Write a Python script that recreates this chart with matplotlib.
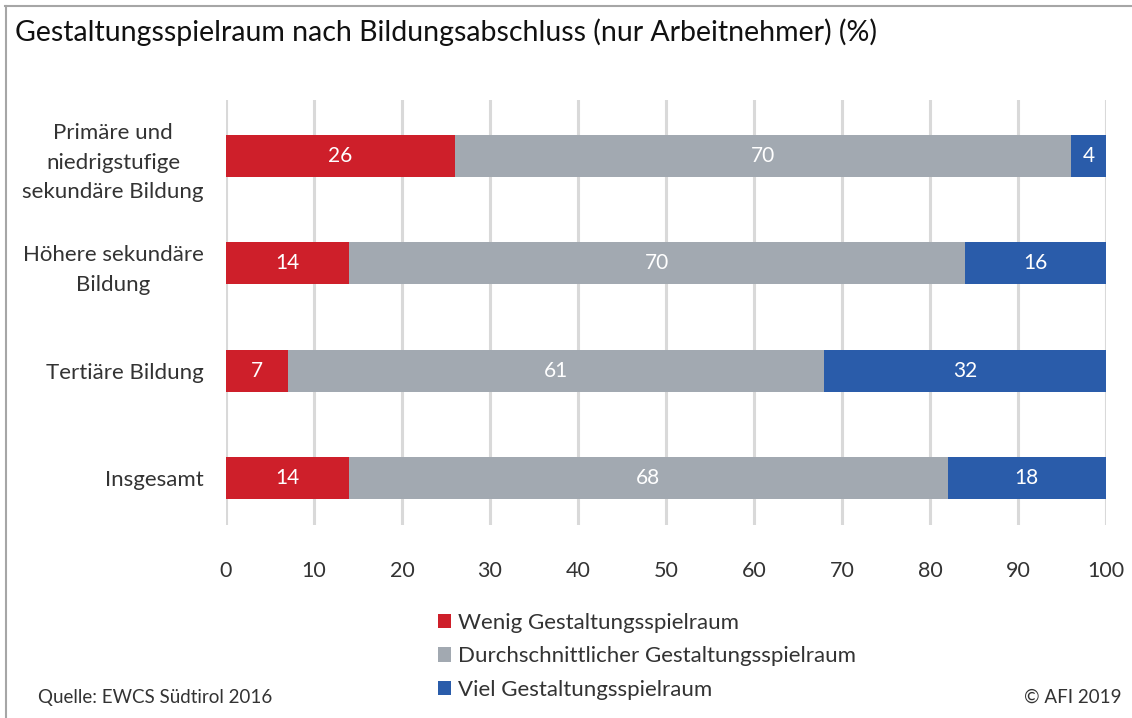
import matplotlib
matplotlib.use("Agg")
import matplotlib.pyplot as plt
import numpy as np

plt.rcParams['font.family'] = ['Lato', 'DejaVu Sans']

categories = ["Primäre und\nniedrigstufige\nsekundäre Bildung",
              "Höhere sekundäre\nBildung",
              "Tertiäre Bildung",
              "Insgesamt"]
series_names = ["Wenig Gestaltungsspielraum",
                "Durchschnittlicher Gestaltungsspielraum",
                "Viel Gestaltungsspielraum"]
wenig = [26, 14, 7, 14]
durchschnitt = [70, 70, 61, 68]
viel = [4, 16, 32, 18]
colors = ["#CE1F2A", "#A2A9B1", "#2A5CAA"]
xticks = [0, 10, 20, 30, 40, 50, 60, 70, 80, 90, 100]

title = "Gestaltungsspielraum nach Bildungsabschluss (nur Arbeitnehmer) (%)"
source = "Quelle: EWCS Südtirol 2016"
copyright_text = "© AFI 2019"

W, H = 1132, 718
fig = plt.figure(figsize=(W/100, H/100), dpi=100)
ax = fig.add_axes([226/W, 1-525/H, (1106-226)/W, (525-100)/H])

y = np.arange(len(categories))
left = np.zeros(len(categories))
for vals, name, col in zip([wenig, durchschnitt, viel], series_names, colors):
    ax.barh(y, vals, left=left, height=0.39, color=col, label=name, zorder=3)
    for yi, l, v in zip(y, left, vals):
        ax.text(l + v/2, yi, str(v), ha='center', va='center', color='white',
                fontsize=15, zorder=4)
    left = left + np.array(vals)

ax.set_xlim(0, 100)
ax.set_ylim(3 + 47/107.3, -56/107.3)
ax.set_xticks(xticks)
ax.set_xticklabels([str(t) for t in xticks], fontsize=15.5, color='#333333')
ax.set_yticks(y)
ax.set_yticklabels(categories, fontsize=16, color='#333333', multialignment='center',
                   linespacing=1.6)
ax.tick_params(axis='both', length=0)
ax.tick_params(axis='x', pad=26)
ax.tick_params(axis='y', pad=16)
for s in ax.spines.values():
    s.set_visible(False)
ax.grid(axis='x', color='#D9D9D9', linewidth=2.2, zorder=0)
ax.set_axisbelow(True)

fig.text(15/W, 1-32/H, title, fontsize=20.5, va='center', ha='left', color='#111111')
fig.text(38/W, 1-697/H, source, fontsize=13.5, va='center', ha='left', color='#333333')
fig.text(1122/W, 1-697/H, copyright_text, fontsize=13.5, va='center', ha='right', color='#333333')

handles, labels = ax.get_legend_handles_labels()
leg = fig.legend(handles, labels, loc='upper left', bbox_to_anchor=(438/W, 1-613/H),
                 frameon=False, fontsize=16, handlelength=0.6, handleheight=0.6,
                 handletextpad=0.3, labelspacing=0.6, borderaxespad=0, borderpad=0)
for t in leg.get_texts():
    t.set_color('#333333')

# frame lines (top and left)
fig.add_artist(plt.Line2D([5/W, 1], [1-6/H, 1-6/H], color='#A6A6A6', linewidth=1.5, transform=fig.transFigure))
fig.add_artist(plt.Line2D([6/W, 6/W], [0, 1-6/H], color='#A6A6A6', linewidth=1.5, transform=fig.transFigure))

fig.savefig("out.png", dpi=100, facecolor='white')
